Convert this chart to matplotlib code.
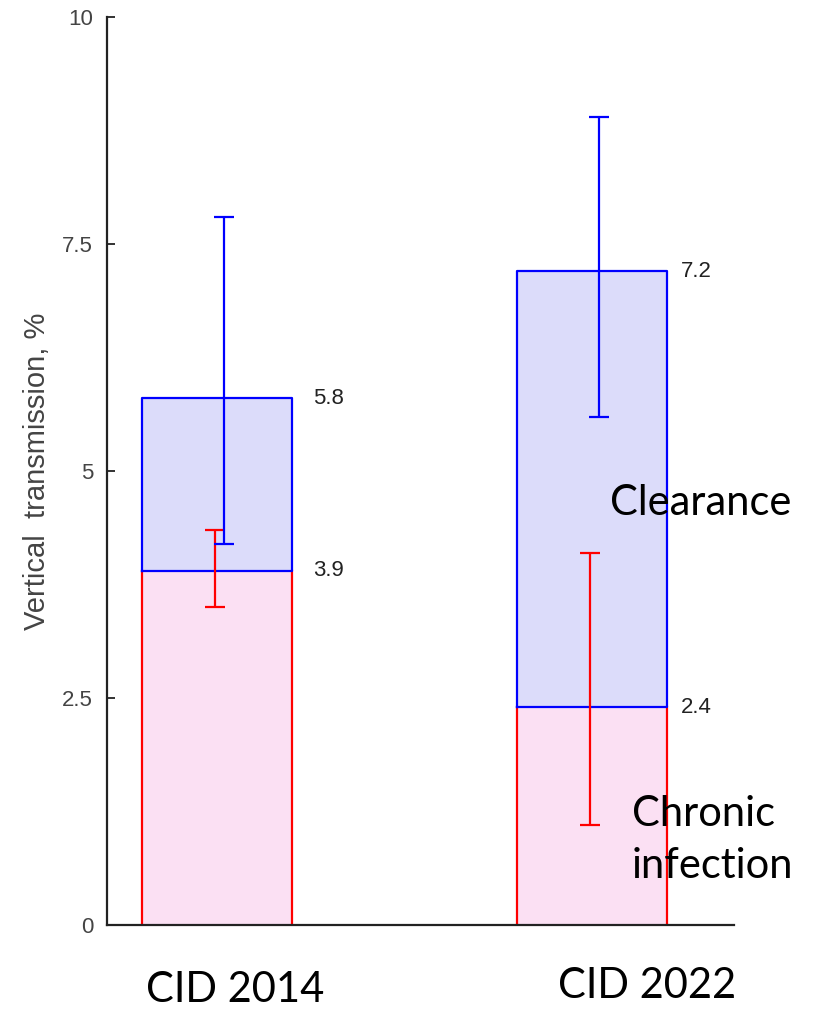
import matplotlib
matplotlib.use("Agg")
from matplotlib import pyplot as plt

# data
studies = ["CID 2014", "CID 2022"]
chronic = [3.9, 2.4]          # bottom segment (chronic infection)
total = [5.8, 7.2]            # top of bar (chronic + clearance)
chronic_err_lo = [3.5, 1.1]
chronic_err_hi = [4.35, 4.1]
total_err_lo = [4.2, 5.6]
total_err_hi = [7.8, 8.9]
yticks = [0, 2.5, 5, 7.5, 10]
ytick_labels = ["0", "2.5", "5", "7.5", "10"]

fig = plt.figure(figsize=(8.28, 10.1), dpi=100)
ax = fig.add_axes([0.1292, 0.0842, 0.7573, 0.8988])

x = [1, 2]
width = 0.4
clearance = [t - c for t, c in zip(total, chronic)]

ax.bar(x, chronic, width=width, color="#fbe0f3", edgecolor="none", zorder=1)
ax.bar(x, clearance, width=width, bottom=chronic, color="#dcdcfa", edgecolor="none", zorder=1)

for xi, c, t in zip(x, chronic, total):
    left, right = xi - width / 2, xi + width / 2
    ax.plot([left, left], [0, c], color="#ff0000", lw=1.6, zorder=2)
    ax.plot([right, right], [0, c], color="#ff0000", lw=1.6, zorder=2)
    ax.plot([left, left, right, right, left], [c, t, t, c, c], color="#0000ff", lw=1.6, zorder=3)

# error bars (slightly offset from bar centre, as in the figure)
for xi, c, lo, hi in zip(x, chronic, chronic_err_lo, chronic_err_hi):
    ax.errorbar([xi - 0.005], [c], yerr=[[c - lo], [hi - c]], fmt="none",
                ecolor="#ff0000", elinewidth=1.6, capsize=7.2, capthick=1.6, zorder=4)
for xi, t, lo, hi in zip(x, total, total_err_lo, total_err_hi):
    ax.errorbar([xi + 0.02], [t], yerr=[[t - lo], [hi - t]], fmt="none",
                ecolor="#0000ff", elinewidth=1.6, capsize=7.2, capthick=1.6, zorder=4)

# value labels
offsets = [15, 10]
for xi, c, t, off in zip(x, chronic, total, offsets):
    for v in (c, t):
        ax.annotate(f"{v:.1f}", (xi + width / 2, v), xytext=(off, 0), textcoords="offset points",
                    ha="left", va="center", fontsize=16, color="#222222", family="Liberation Sans")

ax.set_xlim(0.707, 2.379)
ax.set_ylim(0, 10)
ax.set_yticks(yticks)
ax.set_yticklabels(ytick_labels, family="Liberation Sans", fontsize=16, color="#444444")
ax.set_xticks([])
ax.tick_params(axis="y", direction="in", length=6, width=1.3, color="#222222", pad=10)
for s in ["top", "right"]:
    ax.spines[s].set_visible(False)
for s in ["left", "bottom"]:
    ax.spines[s].set_linewidth(1.6)
    ax.spines[s].set_color("#222222")
ax.set_ylabel("Vertical  transmission, %", family="Liberation Sans", fontsize=21,
              color="#444444", labelpad=8)

# annotations in the slide font
big = dict(family="Lato", fontsize=30, color="black")
fig.text(610 / 828, 1 - 503 / 1010, "Clearance", ha="left", va="center", **big)
fig.text(632 / 828, 1 - 840 / 1010, "Chronic\ninfection", ha="left", va="center", linespacing=1.45, **big)
fig.text(235 / 828, 1 - 990 / 1010, studies[0], ha="center", va="center", **big)
fig.text(647 / 828, 1 - 986 / 1010, studies[1], ha="center", va="center", **big)

fig.savefig("out.png", dpi=100)
